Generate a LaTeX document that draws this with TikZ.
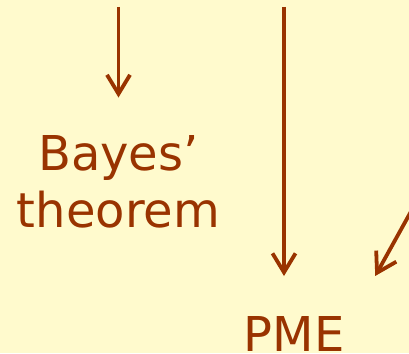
\documentclass[tikz,border=0pt]{standalone}
\usepackage{fontspec}
\setmainfont{DejaVu Sans}
\usetikzlibrary{arrows.meta}
\definecolor{bg}{RGB}{255,250,205}
\definecolor{rust}{RGB}{153,51,0}
\begin{document}
\begin{tikzpicture}[x=1pt,y=-1pt,
  lbl/.style={text=rust, font=\fontsize{48}{57}\selectfont, inner sep=0pt, outer sep=0pt, align=center},
  arr/.style={draw=rust, line width=3.8pt, -{Straight Barb[length=19pt,width=23pt]}}]
\fill[bg] (0,0) rectangle (409,353);
\useasboundingbox (0,0) rectangle (409,353);
\node[lbl, anchor=base] (bayes) at (118.5,227) {Bayes’\\theorem};
\node[lbl, anchor=base] (pme) at (294,351) {PME};
\coordinate (s1) at (118.5,7);
\coordinate (s2) at (284,7);
\coordinate (s3) at (415.8,202.8);
\draw[arr, shorten >=37.5pt] (s1) -- (s1 |- bayes.north);
\draw[arr, shorten >=40pt] (s2) -- (s2 |- pme.north);
\draw[arr, shorten >=45.8pt] (s3) -- ([xshift=8.7pt]pme.north east);
\end{tikzpicture}
\end{document}
